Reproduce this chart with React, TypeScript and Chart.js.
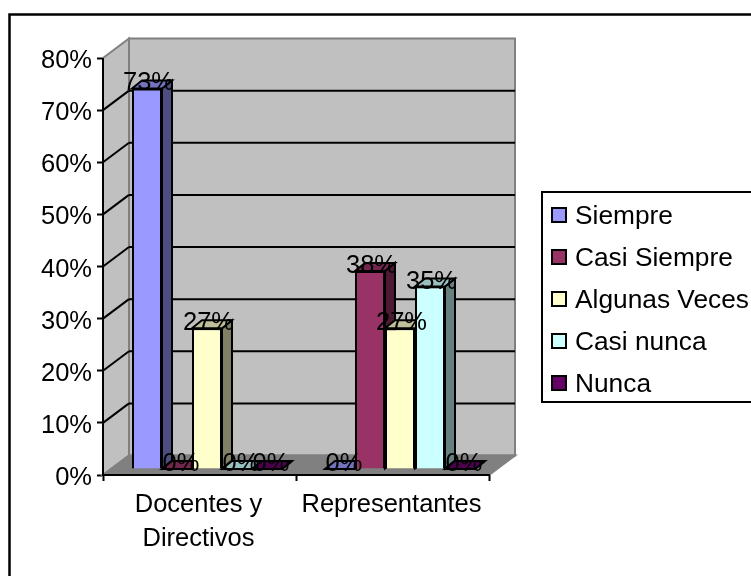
import React, { useEffect, useRef } from "react";
import { Chart, registerables } from "chart.js";

Chart.register(...registerables);

const categories = [["Docentes y", "Directivos"], "Representantes"];
const seriesNames = ["Siempre", "Casi Siempre", "Algunas Veces", "Casi nunca", "Nunca"];
const siempre = [0.73, 0];
const casiSiempre = [0, 0.38];
const algunasVeces = [0.27, 0.27];
const casiNunca = [0, 0.35];
const nunca = [0, 0];
const seriesValues = [siempre, casiSiempre, algunasVeces, casiNunca, nunca];
const frontColors = ["#9999ff", "#993366", "#ffffcc", "#ccffff", "#660066"];
const sideColors = ["#4d4d80", "#4d1a33", "#808066", "#668080", "#330033"];
const topColors = ["#7373bf", "#73264d", "#bfbf99", "#99bfbf", "#4d004d"];

const FONT = "Liberation Sans, Arial, sans-serif";
const FONT_SIZE = 25.5;
const LEGEND_FONT_SIZE = 26.3;
const WALL = { dx: 26, dy: -19.5 };
const BAR_GAP = { dx: 7.5, dy: -6 };
const BAR_DEPTH = { dx: 10, dy: -8 };

const poly = (ctx: CanvasRenderingContext2D, pts: number[][], fill: string | null, stroke: string | null, lw = 2) => {
  ctx.beginPath();
  pts.forEach((p, i) => (i ? ctx.lineTo(p[0], p[1]) : ctx.moveTo(p[0], p[1])));
  ctx.closePath();
  if (fill) {
    ctx.fillStyle = fill;
    ctx.fill();
  }
  if (stroke) {
    ctx.strokeStyle = stroke;
    ctx.lineWidth = lw;
    ctx.lineJoin = "miter";
    ctx.stroke();
  }
};

const line = (ctx: CanvasRenderingContext2D, x1: number, y1: number, x2: number, y2: number, color: string, lw = 2) => {
  ctx.beginPath();
  ctx.moveTo(x1, y1);
  ctx.lineTo(x2, y2);
  ctx.strokeStyle = color;
  ctx.lineWidth = lw;
  ctx.stroke();
};

const frame3d = {
  id: "frame3d",
  beforeDatasetDraw() {
    return false;
  },
  beforeDatasetsDraw(chart: any) {
    const { ctx, chartArea: a, scales } = chart;
    const { left: l, right: r, top: t, bottom: b } = a;
    const { dx, dy } = WALL;
    ctx.save();
    // walls and floor
    poly(ctx, [[l + dx, t + dy], [r + dx, t + dy], [r + dx, b + dy], [l + dx, b + dy]], "#c0c0c0", "#808080");
    poly(ctx, [[l, t], [l + dx, t + dy], [l + dx, b + dy], [l, b]], "#c0c0c0", "#808080");
    poly(ctx, [[l, b], [l + dx, b + dy], [r + dx, b + dy], [r, b]], "#808080", "#808080");
    // gridlines on the walls, from the library's value ticks
    scales.y.ticks.forEach((tk: any) => {
      if (tk.value === 0 || tk.value >= 0.8) return;
      const y = scales.y.getPixelForValue(tk.value);
      line(ctx, l, y, l + dx, y + dy, "#000");
      line(ctx, l + dx, y + dy, r + dx, y + dy, "#000");
    });
    ctx.restore();
  },
  afterDatasetsDraw(chart: any) {
    const { ctx, chartArea: a } = chart;
    ctx.save();
    // front axis lines
    line(ctx, a.left, a.top, a.left, a.bottom, "#000");
    line(ctx, a.left - 1, a.bottom, a.right + 1, a.bottom, "#000");
    // bars, first series first
    chart.data.datasets.forEach((ds: any, i: number) => {
      const meta = chart.getDatasetMeta(i);
      meta.data.forEach((el: any) => {
        const p = el.getProps(["x", "y", "base", "width"], true);
        const x0 = p.x - p.width / 2 + BAR_GAP.dx;
        const x1 = x0 + p.width;
        const yt = p.y + BAR_GAP.dy;
        const yb = p.base + BAR_GAP.dy;
        const { dx, dy } = BAR_DEPTH;
        poly(ctx, [[x1, yt], [x1 + dx, yt + dy], [x1 + dx, yb + dy], [x1, yb]], sideColors[i], "#000");
        poly(ctx, [[x0, yt], [x0 + dx, yt + dy], [x1 + dx, yt + dy], [x1, yt]], topColors[i], "#000");
        ctx.save();
        ctx.translate(BAR_GAP.dx, BAR_GAP.dy);
        el.draw(ctx);
        ctx.restore();
      });
    });
    // value labels
    ctx.fillStyle = "#000";
    ctx.font = `${FONT_SIZE}px ${FONT}`;
    ctx.textAlign = "center";
    ctx.textBaseline = "alphabetic";
    chart.data.datasets.forEach((ds: any, i: number) => {
      chart.getDatasetMeta(i).data.forEach((el: any, j: number) => {
        const p = el.getProps(["x", "y"], true);
        const shift = ds.data[j] === 0 ? 4 : 1.5;
        ctx.fillText(`${Math.round(ds.data[j] * 100)}%`, p.x + BAR_GAP.dx + shift, p.y + BAR_GAP.dy + 2);
      });
    });
    ctx.restore();
  },
};

const outerBorder = {
  id: "outerBorder",
  beforeDraw(chart: any) {
    const { ctx } = chart;
    ctx.save();
    ctx.fillStyle = "#fff";
    ctx.fillRect(0, 0, chart.width, chart.height);
    ctx.strokeStyle = "#000";
    ctx.lineWidth = 2.5;
    ctx.strokeRect(9.5, 14.5, 760, 600);
    ctx.restore();
  },
};

const legendBox = {
  id: "legendBox",
  afterDraw(chart: any) {
    const { ctx } = chart;
    ctx.save();
    ctx.strokeStyle = "#000";
    ctx.lineWidth = 2;
    ctx.strokeRect(542, 192, 240, 210);
    ctx.font = `${LEGEND_FONT_SIZE}px ${FONT}`;
    ctx.textBaseline = "middle";
    ctx.textAlign = "left";
    seriesNames.forEach((name, i) => {
      const y = 215 + i * 42;
      ctx.fillStyle = frontColors[i];
      ctx.fillRect(552, y - 7, 14, 14);
      ctx.strokeRect(552, y - 7, 14, 14);
      ctx.fillStyle = "#000";
      ctx.fillText(name, 575, y + 2);
    });
    ctx.restore();
  },
};

export default function App() {
  const ref = useRef<HTMLCanvasElement>(null);
  useEffect(() => {
    const chart = new Chart(ref.current!, {
      type: "bar",
      data: {
        labels: categories as any,
        datasets: seriesNames.map((label, i) => ({
          label,
          data: seriesValues[i],
          backgroundColor: frontColors[i],
          borderColor: "#000",
          borderWidth: 2,
        })),
      },
      options: {
        animation: false,
        responsive: false,
        devicePixelRatio: 1,
        layout: { padding: { left: 0, top: 58, right: 751 - 489, bottom: 0 } },
        datasets: { bar: { categoryPercentage: 150 / 193, barPercentage: 1 } },
        plugins: { legend: { display: false }, title: { display: false }, tooltip: { enabled: false } },
        scales: {
          x: {
            position: "bottom",
            grid: { display: true, drawOnChartArea: false, drawTicks: true, tickLength: 6, tickColor: "#000", tickWidth: 2 },
            border: { display: false },
            afterFit(s: any) { s.height = 101; },
            ticks: {
              color: "#000",
              maxRotation: 0,
              minRotation: 0,
              autoSkip: false,
              padding: 7,
              labelOffset: -1,
              font: { family: FONT, size: FONT_SIZE, lineHeight: 1.32 },
            },
          },
          y: {
            min: 0,
            max: 0.8,
            afterFit(s: any) { s.width = 103; },
            grid: { display: true, drawOnChartArea: false, drawTicks: true, tickLength: 6, tickColor: "#000", tickWidth: 2 },
            border: { display: false },
            ticks: {
              stepSize: 0.1,
              color: "#000",
              padding: 5,
              labelOffset: 3,
              font: { family: FONT, size: FONT_SIZE },
              callback: (v: any) => `${Math.round(Number(v) * 100)}%`,
            },
          },
        },
      },
      plugins: [outerBorder, frame3d, legendBox],
    } as any);
    return () => chart.destroy();
  }, []);
  return (
    <canvas
      ref={ref}
      width={751}
      height={576}
      style={{ position: "fixed", left: 0, top: 0, width: 751, height: 576, display: "block" }}
    />
  );
}
